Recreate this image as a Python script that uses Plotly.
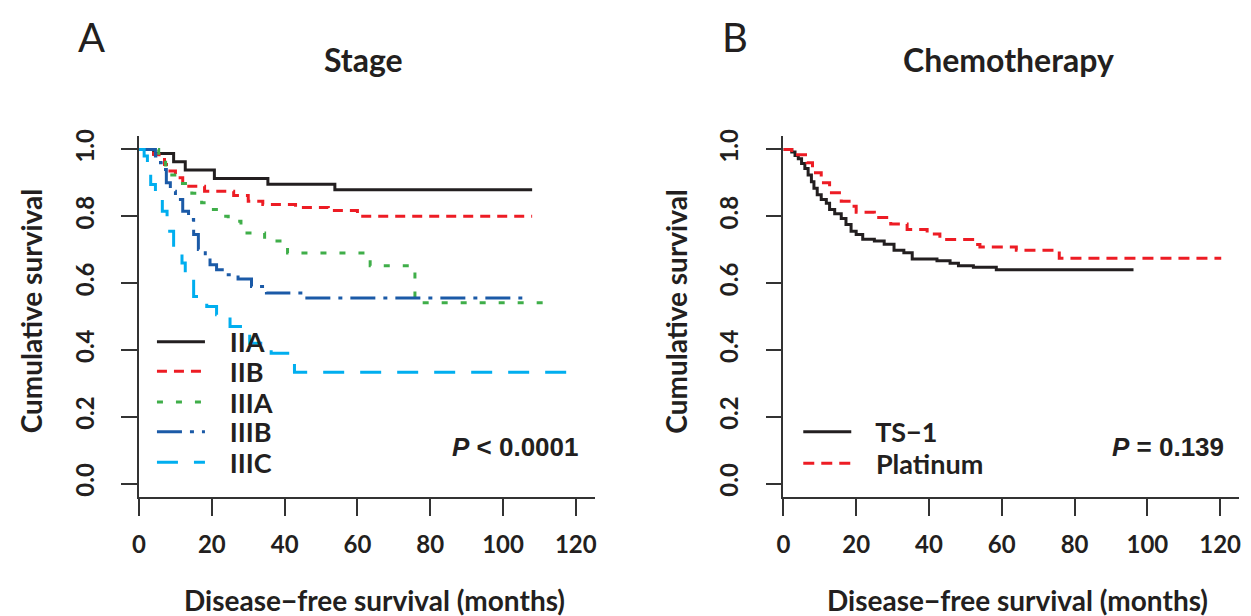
import plotly.graph_objects as go

W, H = 1251, 616

# ---------------- data ----------------
# Panel A: Stage
stage_names = ["IIA", "IIB", "IIIA", "IIIB", "IIIC"]
iia_t = [0, 4, 9.5, 12.7, 20.7, 35.4, 53.8, 108]
iia_s = [1.0, 0.988, 0.963, 0.938, 0.913, 0.896, 0.879, 0.879]
iib_t = [0, 4, 5.5, 7, 8.5, 10, 12, 18, 26, 30, 34, 43, 52, 60, 108]
iib_s = [1.0, 0.985, 0.97, 0.955, 0.935, 0.915, 0.89, 0.875, 0.862, 0.845, 0.835, 0.826, 0.817, 0.80, 0.80]
iiia_t = [0, 5.4, 7.3, 9, 10.9, 14.5, 17.2, 20, 21.8, 24.5, 28, 34.5, 40.8, 63.5, 75.8, 114.4]
iiia_s = [1.0, 0.977, 0.953, 0.923, 0.898, 0.869, 0.84, 0.82, 0.80, 0.785, 0.75, 0.726, 0.69, 0.652, 0.541, 0.541]
iiib_t = [0, 4.5, 5.9, 6.8, 7.5, 8.6, 10, 12, 13.6, 15, 16.3, 18.2, 19.5, 21.3, 24.5, 27.2, 30.9, 35, 45.4, 105.3]
iiib_s = [1.0, 0.98, 0.96, 0.94, 0.90, 0.875, 0.85, 0.815, 0.79, 0.745, 0.70, 0.675, 0.655, 0.64, 0.625, 0.612, 0.59, 0.57, 0.555, 0.555]
iiic_t = [0, 1.4, 2.3, 3.2, 4.5, 6.4, 7.7, 9.5, 11.8, 12.7, 15, 18.6, 21.3, 25, 30.4, 36.3, 42.7, 46.7, 120.3]
iiic_s = [1.0, 0.98, 0.93, 0.895, 0.855, 0.815, 0.755, 0.70, 0.66, 0.62, 0.56, 0.53, 0.505, 0.47, 0.42, 0.39, 0.333, 0.333, 0.333]

# Panel B: Chemotherapy
chemo_names = ["TS\u22121", "Platinum"]
ts1_t = [0, 2.3, 3.2, 4.1, 5.0, 5.9, 6.8, 7.7, 8.4, 9.3, 10.4, 11.8, 12.7, 14.1, 15.9, 17.2, 18.6, 20, 21.8, 25,
         27.7, 30.4, 33.1, 35.4, 42.2, 45.8, 48.1, 52.2, 58.5, 96.2]
ts1_s = [1.0, 0.992, 0.982, 0.972, 0.958, 0.943, 0.923, 0.903, 0.884, 0.864, 0.85, 0.839, 0.82, 0.807, 0.793,
         0.775, 0.755, 0.745, 0.731, 0.726, 0.716, 0.698, 0.691, 0.672, 0.667, 0.659, 0.652, 0.647, 0.64, 0.64]
plat_t = [0, 2.3, 6.5, 8, 10.4, 12.7, 15.9, 19, 20, 25, 29.5, 34, 39.5, 43, 52, 54, 64, 75.8, 120.3]
plat_s = [1.0, 0.984, 0.96, 0.93, 0.90, 0.87, 0.845, 0.83, 0.812, 0.796, 0.777, 0.76, 0.747, 0.73, 0.715, 0.708,
          0.698, 0.674, 0.674]

x_ticks = [0, 20, 40, 60, 80, 100, 120]
y_ticks = [0.0, 0.2, 0.4, 0.6, 0.8, 1.0]
y_ticktext = ["0.0", "0.2", "0.4", "0.6", "0.8", "1.0"]

# ---------------- styles ----------------
BLACK = "#231f20"
RED = "#ed1c24"
GREEN = "#3fae49"
DBLUE = "#1b5aa7"
CYAN = "#00aeef"
FONT = "Lato"


def px_x(p):
    return p / W


def px_y(p):
    return 1 - p / H


fig = go.Figure()

stage_series = [
    (iia_t, iia_s, BLACK, "solid"),
    (iib_t, iib_s, RED, "10px,7px"),
    (iiia_t, iiia_s, GREEN, "6px,13px"),
    (iiib_t, iiib_s, DBLUE, "25px,8px,4px,8px"),
    (iiic_t, iiic_s, CYAN, "21px,16px"),
]
legend_ids = ["legend", "legend2", "legend3", "legend4", "legend5", "legend6", "legend7"]
NB = "\u00a0\u00a0\u00a0"
for i, (name, (t, s, c, d)) in enumerate(zip(stage_names, stage_series)):
    fig.add_trace(go.Scatter(x=t, y=s, mode="lines", name=NB + name, line=dict(color=c, width=3, dash=d, shape="hv"),
                             xaxis="x", yaxis="y", legend=legend_ids[i], showlegend=True))

chemo_series = [
    (ts1_t, ts1_s, BLACK, "solid"),
    (plat_t, plat_s, RED, "11px,7px"),
]
for j, (name, (t, s, c, d)) in enumerate(zip(chemo_names, chemo_series)):
    fig.add_trace(go.Scatter(x=t, y=s, mode="lines", name=NB + name, line=dict(color=c, width=3, dash=d, shape="hv"),
                             xaxis="x2", yaxis="y2", legend=legend_ids[5 + j], showlegend=True))

ydom = [(H - 495.5) / H, (H - 130.5) / H]
tickfont = dict(family=FONT, size=24, color=BLACK, weight="bold")
common_x = dict(range=[0, 125.2], tickvals=x_ticks, ticks="outside", ticklen=17, tickwidth=1.5,
                tickcolor="#333333", showline=True, linecolor="#333333", linewidth=1.5, showgrid=False,
                zeroline=False, tickfont=tickfont, ticklabelstandoff=9, fixedrange=True)
common_y = dict(range=[-0.04, 1.04], tickvals=y_ticks, ticktext=y_ticktext, ticks="outside", ticklen=16,
                tickwidth=1.5, tickcolor="#333333", showline=True, linecolor="#333333", linewidth=1.5,
                showgrid=False, zeroline=False, tickfont=tickfont, tickangle=-90, ticklabelstandoff=18,
                domain=ydom, fixedrange=True)

fig.update_layout(
    width=W, height=H,
    margin=dict(l=0, r=0, t=0, b=0),
    paper_bgcolor="white", plot_bgcolor="white",
    showlegend=True,
    xaxis=dict(domain=[133 / W, 592 / W], anchor="y", **common_x),
    yaxis=dict(anchor="x", **common_y),
    xaxis2=dict(domain=[782 / W, 1241 / W], anchor="y2", **common_x),
    yaxis2=dict(anchor="x2", **common_y),
)

leg_font = dict(family=FONT, size=27, color=BLACK, weight="bold")
rows = [(146, 339), (146, 369), (146, 400), (146, 430), (146, 461), (797, 430), (797, 462)]
leg_layout = {}
for lid, (lx, ly) in zip(legend_ids, rows):
    leg_layout[lid] = dict(x=px_x(lx), y=px_y(ly), xanchor="left", yanchor="middle", bgcolor="rgba(0,0,0,0)",
                           borderwidth=0, font=leg_font, itemwidth=48, itemclick=False, itemdoubleclick=False,
                           visible=True)
fig.update_layout(**leg_layout)

ann = []
ann.append(dict(text="A", x=px_x(69), y=px_y(30), xanchor="left", yanchor="middle",
                font=dict(family=FONT, size=40, color=BLACK)))
ann.append(dict(text="B", x=px_x(718), y=px_y(30), xanchor="left", yanchor="middle",
                font=dict(family=FONT, size=40, color=BLACK)))
title_font = dict(family=FONT, size=32, color=BLACK, weight="bold")
ann.append(dict(text="Stage", x=px_x(359), y=px_y(53), xanchor="center", yanchor="middle", font=title_font))
ann.append(dict(text="Chemotherapy", x=px_x(1009), y=px_y(53), xanchor="center", yanchor="middle", font=title_font))
axt_font = dict(family=FONT, size=28, color=BLACK, weight="bold")
for cx in (370, 1018):
    ann.append(dict(text="Disease\u2212free survival (months)", x=px_x(cx), y=px_y(600), xanchor="center",
                    yanchor="middle", font=axt_font))
for cx in (24, 673):
    ann.append(dict(text="Cumulative survival", x=px_x(cx), y=px_y(308), xanchor="center", yanchor="middle",
                    textangle=-90, font=axt_font))
p_font = dict(family="Liberation Sans", size=26, color=BLACK, weight="bold")
ann.append(dict(text="<i>P</i> &lt; 0.0001", x=px_x(578), y=px_y(445), xanchor="right", yanchor="middle",
                font=p_font))
ann.append(dict(text="<i>P</i> = 0.139", x=px_x(1228), y=px_y(445), xanchor="right", yanchor="middle",
                font=p_font))
for a in ann:
    a.update(xref="paper", yref="paper", showarrow=False)
fig.update_layout(annotations=ann)

fig.write_html("out.html", config={"displayModeBar": False, "staticPlot": False},
               post_script="document.body.style.margin='0';document.body.style.overflow='hidden';")
